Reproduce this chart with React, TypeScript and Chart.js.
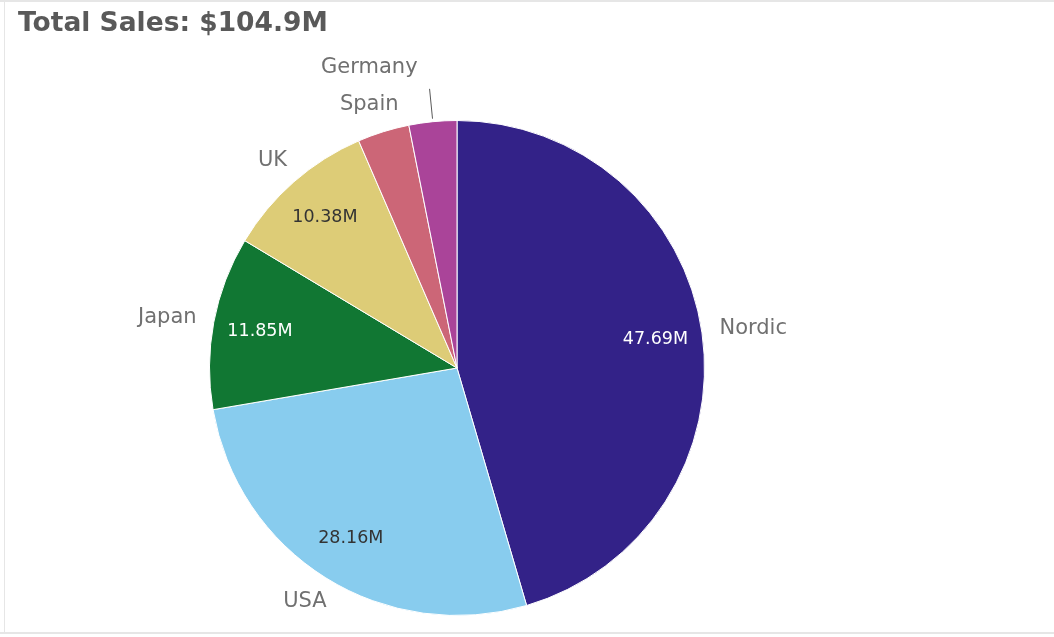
import React, { useEffect, useRef } from "react";
import { Chart, registerables } from "chart.js";

Chart.register(...registerables);

const TITLE = "Total Sales: $104.9M";
const categories = ["Nordic", "USA", "Japan", "UK", "Spain", "Germany"];
const salesM = [47.69, 28.16, 11.85, 10.38, 3.55, 3.27];
const sliceColors = ["#332288", "#88ccee", "#117733", "#ddcc77", "#cc6677", "#aa4499"];
const valueLabelColors = ["#ffffff", "#333333", "#ffffff", "#333333", "#333333", "#ffffff"];

const NAME_FONT = "21px 'DejaVu Sans'";
const VALUE_FONT = "17.5px 'DejaVu Sans'";

type Rect = { l: number; r: number; t: number; b: number };
const overlaps = (a: Rect, b: Rect) => a.l < b.r && b.l < a.r && a.t < b.b && b.t < a.b;

const pieLabels = {
  id: "pieLabels",
  afterDatasetsDraw(chart: any) {
    const ctx = chart.ctx as CanvasRenderingContext2D;
    const meta = chart.getDatasetMeta(0);
    const data = chart.data.datasets[0].data as number[];
    const total = data.reduce((s, v) => s + v, 0);
    const placed: Rect[] = [];
    ctx.save();
    meta.data.forEach((arc: any, i: number) => {
      const { x, y, startAngle, endAngle, outerRadius } = arc.getProps(
        ["x", "y", "startAngle", "endAngle", "outerRadius"],
        true
      );
      const mid = (startAngle + endAngle) / 2;
      const c = Math.cos(mid);
      const s = Math.sin(mid);
      const frac = data[i] / total;
      if (frac > 0.05) {
        const vr = outerRadius * 0.81;
        ctx.font = VALUE_FONT;
        ctx.fillStyle = valueLabelColors[i];
        ctx.textAlign = "center";
        ctx.textBaseline = "middle";
        ctx.fillText(data[i].toFixed(2) + "M", x + c * vr, y + s * vr);
      }
      ctx.font = NAME_FONT;
      const label = categories[i];
      const w = ctx.measureText(label).width;
      const h = 20;
      const ar = outerRadius + 18;
      const ax = x + c * ar;
      const ay = y + s * ar;
      let cx = ax + (c * w) / 2;
      let cy = ay + (s * h) / 2;
      let rect: Rect = { l: cx - w / 2, r: cx + w / 2, t: cy - h / 2, b: cy + h / 2 };
      if (placed.some((p) => overlaps(p, rect))) {
        const lr1 = outerRadius + 3;
        const lr2 = outerRadius + 33;
        const x1 = x + c * lr1;
        const y1 = y + s * lr1;
        const x2 = x + c * lr2;
        const y2 = y + s * lr2;
        ctx.strokeStyle = "#595959";
        ctx.lineWidth = 1;
        ctx.beginPath();
        ctx.moveTo(x1, y1);
        ctx.lineTo(x2, y2);
        ctx.stroke();
        cx = x2 - 12 - w / 2;
        cy = y2 - 11 - h / 2;
        rect = { l: cx - w / 2, r: cx + w / 2, t: cy - h / 2, b: cy + h / 2 };
      }
      placed.push(rect);
      ctx.fillStyle = "#707070";
      ctx.textAlign = "center";
      ctx.textBaseline = "middle";
      ctx.fillText(label, cx, cy);
    });
    ctx.restore();
  },
};

export default function App() {
  const canvasRef = useRef<HTMLCanvasElement | null>(null);

  useEffect(() => {
    document.body.style.margin = "0";
    const canvas = canvasRef.current;
    if (!canvas) return;
    const chart = new Chart(canvas, {
      type: "pie",
      data: {
        labels: categories,
        datasets: [
          {
            data: salesM,
            backgroundColor: sliceColors,
            borderColor: "#ffffff",
            borderWidth: 1,
          },
        ],
      },
      options: {
        animation: false,
        responsive: false,
        layout: { padding: { left: 209, right: 349, top: 120, bottom: 21 } },
        plugins: {
          legend: { display: false },
          tooltip: { enabled: false },
          title: { display: false },
        },
      },
      plugins: [pieLabels],
    });
    return () => chart.destroy();
  }, []);

  return (
    <div style={{ position: "relative", width: 1054, height: 637, background: "#fff", overflow: "hidden" }}>
      <div style={{ position: "absolute", left: 0, top: 0, width: 1054, height: 2, background: "#e6e6e6" }} />
      <div style={{ position: "absolute", left: 0, top: 632, width: 1054, height: 2, background: "#e6e6e6" }} />
      <div style={{ position: "absolute", left: 4, top: 2, width: 1, height: 630, background: "#e6e6e6" }} />
      <canvas ref={canvasRef} width={1054} height={637} style={{ position: "absolute", left: 0, top: 0 }} />
      <div
        style={{
          position: "absolute",
          left: 18,
          top: 9,
          font: "bold 26.5px 'DejaVu Sans'",
          lineHeight: "26px",
          color: "#595959",
          whiteSpace: "nowrap",
        }}
      >
        {TITLE}
      </div>
    </div>
  );
}
